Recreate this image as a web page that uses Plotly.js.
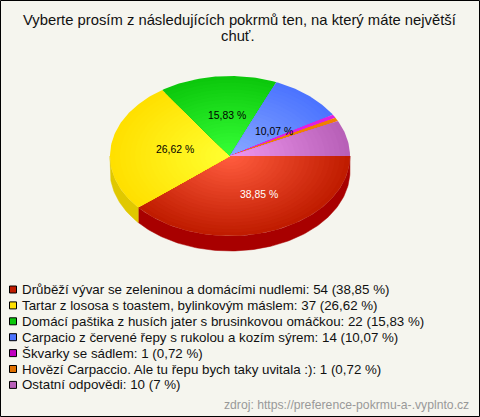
<!DOCTYPE html>
<html><head><meta charset="utf-8">
<script src="https://cdn.plot.ly/plotly-3.0.1.min.js"></script>
<style>html,body{margin:0;padding:0;background:#f5f5ee}</style>
</head><body><div id="c" style="width:480px;height:417px"></div>
<script>
const categories = ["Drůběží vývar se zeleninou a domácími nudlemi","Tartar z lososa s toastem, bylinkovým máslem","Domácí paštika z husích jater s brusinkovou omáčkou","Carpacio z červené řepy s rukolou a kozím sýrem","Škvarky se sádlem","Hovězí Carpaccio. Ale tu řepu bych taky uvitala :)","Ostatní odpovědi"];
const counts = [54,37,22,14,1,1,10];
const percentLabels = ["38,85 %","26,62 %","15,83 %","10,07 %","0,72 %","0,72 %","7 %"];
const edgeColors = ["#c01c00","#ffe000","#0cc80c","#4c74ff","#e020e0","#f08000","#b860b8"];
const innerColors = ["#ff5c3e","#ffff30","#36ff36","#88a8ff","#e020e0","#f08000","#ee96ee"];
const wallColors = ["#a80000","#e0c800"];
const swatchColors = ["#c01c00","#ffe000","#0cc80c","#4c74ff","#c000c0","#e07000","#b860b8"];
const labelPos = [[258.5,194],[175,149],[226.5,115],[273.5,131]];
const labelColors = ["#ffffff","#000000","#000000","#000000"];

const cx=230, cy=156, rx=120, ry=80, depth=15, RINGS=24;
const total = counts.reduce((a,b)=>a+b,0);
const hex=c=>[1,3,5].map(i=>parseInt(c.substr(i,2),16));
const mix=(a,b,t)=>{const A=hex(a),B=hex(b);return `rgb(${A.map((v,i)=>Math.round(v+(B[i]-v)*t)).join(",")})`};
const traces=[];
function arc(a0,a1,k,dy){const n=Math.max(2,Math.ceil((a1-a0)/0.02));const xs=[],ys=[];
  for(let i=0;i<=n;i++){const a=a0+(a1-a0)*i/n;xs.push(cx+k*rx*Math.cos(a));ys.push(cy+dy+k*ry*Math.sin(a));}
  return [xs,ys];}
let acc=0; const angles=counts.map(v=>{const s=acc;acc+=v;return [s/total*2*Math.PI,acc/total*2*Math.PI];});
// side wall
angles.forEach(([a0,a1],i)=>{
  const e=Math.min(a1,Math.PI); if(a0>=Math.PI) return;
  const [x1,y1]=arc(a0,e,1,0),[x2,y2]=arc(a0,e,1,depth);
  traces.push({type:"scatter",mode:"lines",x:x1.concat(x2.reverse(),[x1[0]]),y:y1.concat(y2.reverse(),[y1[0]]),fill:"toself",fillcolor:wallColors[i],line:{width:0.5,color:wallColors[i]},hoverinfo:"skip",showlegend:false});
});
// top surface
angles.forEach(([a0,a1],i)=>{
  for(let r=0;r<RINGS;r++){
    const k=1-r/RINGS, t=r/(RINGS-1);
    const [x,y]=arc(a0,a1,k,0);
    traces.push({type:"scatter",mode:"lines",x:[cx].concat(x,[cx]),y:[cy].concat(y,[cy]),fill:"toself",fillcolor:mix(edgeColors[i],innerColors[i],t),line:{width:0},name:categories[i],hoverinfo:"skip",showlegend:false});
  }
});
// legend swatches
const legendY=i=>289.5+15.9*i;
traces.push({type:"scatter",mode:"markers",x:categories.map(()=>13),y:categories.map((_,i)=>legendY(i)),marker:{symbol:"square",size:7,color:swatchColors,line:{color:"#000",width:1}},hoverinfo:"skip",showlegend:false});
const font="Liberation Sans, Arial, sans-serif";
const ann=[];
percentLabels.slice(0,4).forEach((p,i)=>ann.push({x:labelPos[i][0],y:labelPos[i][1],text:p,showarrow:false,font:{family:font,size:10.4,color:labelColors[i]}}));
categories.forEach((c,i)=>ann.push({x:20,y:legendY(i),xanchor:"left",text:`${c}: ${counts[i]} (${percentLabels[i]})`,showarrow:false,font:{family:font,size:13.33,color:"#111"}}));
ann.push({x:470.5,y:405,xanchor:"right",text:"zdroj: https://preference-pokrmu-a-.vyplnto.cz",showarrow:false,font:{family:font,size:12.2,color:"#999"}});
ann.push({x:240,y:20,text:"Vyberte prosím z následujících pokrmů ten, na který máte největší",showarrow:false,font:{family:font,size:14.8,color:"#111"}});
ann.push({x:237.5,y:35.5,text:"chuť.",showarrow:false,font:{family:font,size:14.8,color:"#111"}});
Plotly.newPlot("c",traces,{width:480,height:417,margin:{l:0,r:0,t:0,b:0},paper_bgcolor:"#f5f5ee",plot_bgcolor:"#f5f5ee",
 xaxis:{range:[0,480],visible:false,fixedrange:true},yaxis:{range:[417,0],visible:false,fixedrange:true},
 annotations:ann,
 shapes:[{type:"rect",xref:"x",yref:"y",x0:0.5,y0:0.5,x1:479.5,y1:416.5,line:{color:"#000",width:1}}],showlegend:false},{staticPlot:true,displayModeBar:false});
</script></body></html>
